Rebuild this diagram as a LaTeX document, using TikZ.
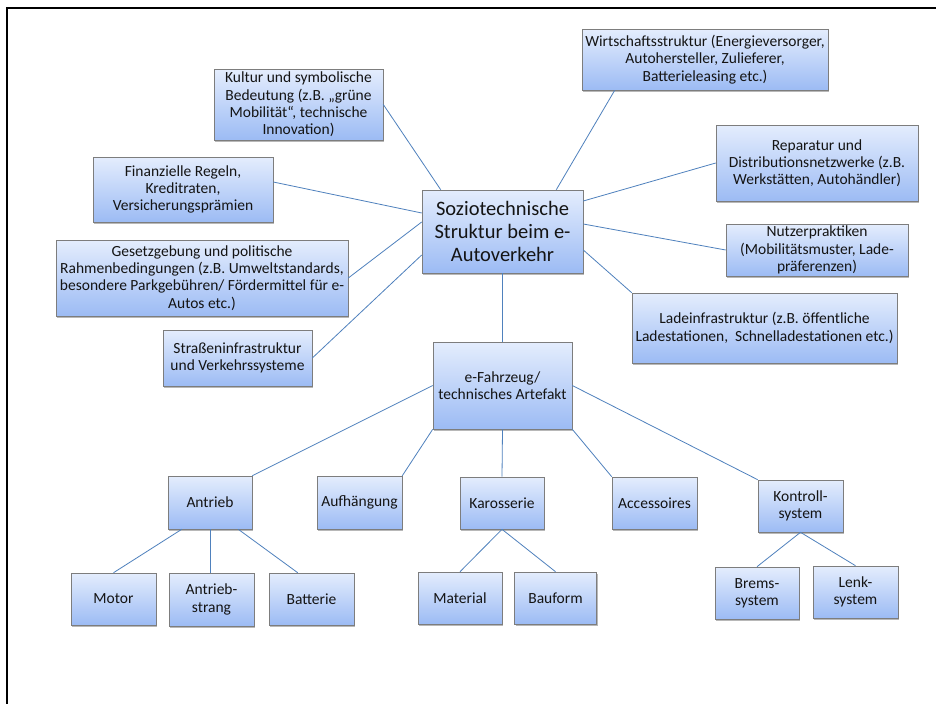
\documentclass[tikz,border=0pt]{standalone}
\usepackage{fontspec}
\setmainfont{Carlito}
\usetikzlibrary{shadows,calc}
\definecolor{boxtop}{RGB}{228,237,253}
\definecolor{boxbot}{RGB}{156,187,244}
\definecolor{boxedge}{RGB}{125,125,125}
\definecolor{linkc}{RGB}{79,129,189}
\definecolor{txt}{RGB}{20,20,20}
\tikzset{
  box/.style={draw=boxedge, line width=0.6pt, top color=boxtop, bottom color=boxbot,
    align=center, inner sep=1pt, text=txt,
    font=\fontsize{15.5}{17.3}\selectfont,
    drop shadow={shadow xshift=1.2pt, shadow yshift=-1.6pt, fill=black, opacity=0.28}},
  sz/.style 2 args={minimum width=#1pt, minimum height=#2pt},
  link/.style={draw=linkc, line width=0.8pt},
  frame/.style={draw=black, line width=2pt}
}
\begin{document}
\begin{tikzpicture}[x=1pt,y=-1pt]
\useasboundingbox (0,0) rectangle (936,704);
\fill[white] (0,0) rectangle (936,704);
\coordinate (fcorner) at (7,8);
\coordinate (fright) at (936,8);
\coordinate (fbottom) at (7,704);
\draw[frame] (fright) -- (fcorner) -- (fbottom);

% upper ring
\node[box, sz={169}{71}] (kultur) at (298.5,104.5) {Kultur und symbolische\\Bedeutung (z.B. „grüne\\Mobilität“, technische\\Innovation)};
\node[box, sz={246}{61}] (wirt) at (705,59.5) {Wirtschaftsstruktur (Energieversorger,\\Autohersteller, Zulieferer,\\Batterieleasing etc.)};
\node[box, sz={161}{83}, font=\fontsize{20.5}{23}\selectfont] (ctr) at (502.5,231.5) {Soziotechnische\\Struktur beim e-\\Autoverkehr};
\node[box, sz={202}{76}] (rep) at (817,163) {Reparatur und\\Distributionsnetzwerke (z.B.\\Werkstätten, Autohändler)};
\node[box, sz={182}{52}] (nutz) at (817,250) {Nutzerpraktiken\\(Mobilitätsmuster, Lade-\\präferenzen)};
\node[box, sz={265}{70}] (lade) at (764.5,328) {Ladeinfrastruktur (z.B. öffentliche\\Ladestationen,\ \ Schnelladestationen etc.)};
\node[box, sz={180}{65}] (finanz) at (183,189.5) {Finanzielle Regeln,\\Kreditraten,\\Versicherungsprämien};
\node[box, sz={292}{76}] (gesetz) at (202,278) {Gesetzgebung und politische\\Rahmenbedingungen (z.B. Umweltstandards,\\besondere Parkgebühren/ Fördermittel für e-\\Autos etc.)};
\node[box, sz={149}{56}] (strasse) at (237.5,358) {Straßeninfrastruktur\\und Verkehrssysteme};

% vehicle
\node[box, sz={139}{87}] (efz) at (502.5,385.5) {e-Fahrzeug/\\technisches Artefakt};
\node[box, sz={84}{53}] (antrieb) at (210,502.5) {Antrieb};
\node[box, sz={85}{53}] (aufh) at (359.5,502.5) {Aufhängung};
\node[box, sz={84}{52}] (karo) at (502,503) {Karosserie};
\node[box, sz={85}{52}] (acc) at (654.5,503) {Accessoires};
\node[box, sz={85}{52}] (kontr) at (800.5,506) {Kontroll-\\system};
\node[box, sz={84}{52}] (brems) at (757,593) {Brems-\\system};
\node[box, sz={85}{52}] (lenk) at (855.5,592) {Lenk-\\system};
\node[box, sz={85}{52}] (motor) at (113.5,599) {Motor};
\node[box, sz={85}{53}] (astrang) at (211.5,599.5) {Antrieb-\\strang};
\node[box, sz={85}{52}] (batt) at (311.5,599) {Batterie};
\node[box, sz={84}{52}] (mat) at (460,598) {Material};
\node[box, sz={82}{52}] (bau) at (555.5,598) {Bauform};

% connectors upper
\draw[link] (kultur.east) -- ([xshift=19pt]ctr.north west);
\draw[link] ([xshift=33pt]wirt.south west) -- ([xshift=-27pt]ctr.north east);
\draw[link] ([yshift=7.5pt]finanz.east) -- ([yshift=18.5pt]ctr.west);
\draw[link] (gesetz.east) -- ([yshift=9.5pt]ctr.west);
\draw[link] (strasse.east) -- ([yshift=-23.5pt]ctr.west);
\draw[link] (rep.west) -- ([yshift=30.5pt]ctr.east);
\draw[link] (nutz.west) -- ([yshift=7.5pt]ctr.east);
\draw[link] (lade.north west) -- ([yshift=-18.5pt]ctr.east);
\draw[link] (ctr.south) -- (efz.north);

% connectors vehicle
\draw[link] (efz.west) -- (antrieb.north east);
\draw[link] (efz.south west) -- (aufh.north east);
\draw[link] (efz.south) -- (karo.north);
\draw[link] (efz.south east) -- (acc.north west);
\draw[link] (efz.east) -- (kontr.north west);
\draw[link] ([xshift=14pt]antrieb.south west) -- (motor.north);
\draw[link] (antrieb.south) -- (antrieb.south |- astrang.north);
\draw[link] ([xshift=-14pt]antrieb.south east) -- ([xshift=29pt]batt.north west);
\draw[link] (karo.south) -- (mat.north);
\draw[link] (karo.south) -- (bau.north);
\draw[link] (kontr.south) -- (brems.north);
\draw[link] (kontr.south) -- (lenk.north);
\end{tikzpicture}
\end{document}
